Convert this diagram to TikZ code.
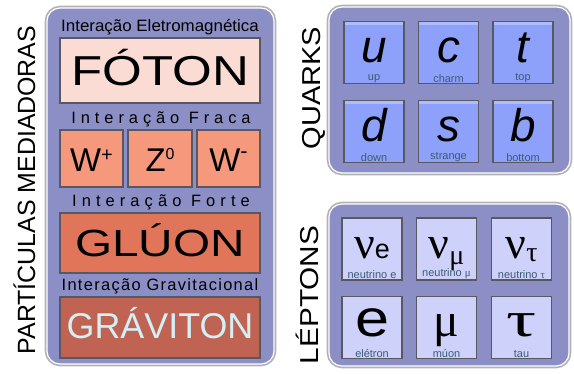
\documentclass[tikz,border=0pt]{standalone}
\usepackage{fontspec}
\setmainfont{Liberation Sans}
\newfontfamily\greekfont{Liberation Serif}

\definecolor{panelfill}{RGB}{140,143,198}
\definecolor{panelline}{RGB}{178,178,182}
\definecolor{boxline}{RGB}{88,88,98}
\definecolor{fotonfill}{RGB}{250,220,212}
\definecolor{fracafill}{RGB}{245,152,124}
\definecolor{gluonfill}{RGB}{225,117,89}
\definecolor{gravfill}{RGB}{193,99,82}
\definecolor{gravtext}{RGB}{210,240,246}
\definecolor{quarkfill}{RGB}{141,161,250}
\definecolor{quarktop}{RGB}{172,188,252}
\definecolor{leptonfill}{RGB}{206,209,250}
\definecolor{namecolor}{RGB}{62,90,118}

\begin{document}
\begin{tikzpicture}[x=1bp, y=-1bp,
  every node/.style={inner sep=0pt, outer sep=0pt},
  panel/.style={draw=white, line width=1.2bp, fill=panelfill, rounded corners=13bp,
    preaction={draw=panelline, line width=4.6bp}},
  forcebox/.style={draw=boxline, line width=1.3bp, text depth=0pt},
  forcetitle/.style={font=\fontsize{16.5}{16.5}\selectfont, text height=12bp, text depth=0pt},
  sidetitle/.style={rotate=90, text depth=0pt},
  quarkbox/.style={draw=boxline, line width=1.3bp, fill=quarkfill,
    minimum width=60bp, minimum height=62bp, text height=20bp, text depth=0pt,
    font=\fontsize{46}{46}\selectfont\itshape,
    path picture={\fill[quarktop] (path picture bounding box.north west)
      rectangle ([yshift=-3bp]path picture bounding box.north east);}},
  leptonbox/.style={draw=boxline, line width=1.3bp, fill=leptonfill,
    minimum width=60bp, minimum height=62bp, text height=18bp, text depth=0pt},
  partname/.style={font=\fontsize{11}{11}\selectfont, text=namecolor, anchor=south, inner sep=1.2bp}]

  \useasboundingbox (0,0) rectangle (574,373);

  % the three panels
  \node[panel, minimum width=227bp, minimum height=356bp] (mediadoras) at (160.5,186) {};
  \node[panel, minimum width=241bp, minimum height=166bp] (quarks) at (449.5,90) {};
  \node[panel, minimum width=240bp, minimum height=162bp] (leptons) at (449,285) {};

  % side titles
  \node[sidetitle, text height=18bp, font=\fontsize{25}{25}\selectfont] (medtitle) at (26,190)
  {PARTÍCULAS MEDIADORAS};
  \node[sidetitle, text height=19bp, font=\fontsize{26}{26}\selectfont] (quarktitle) at (311,88)
  {\scalebox{1.12}[1]{QUARKS}};
  \node[sidetitle, text height=19bp, font=\fontsize{26}{26}\selectfont] (leptontitle) at (309,295)
  {\scalebox{1.15}[1]{LÉPTONS}};

  % mediating particles
  \node[forcetitle] (eletro) at (160,25) {\scalebox{1.03}[1]{Interação Eletromagnética}};
  \node[forcebox, fill=fotonfill, minimum width=200bp, minimum height=65bp, text height=30bp,
    font=\fontsize{42}{42}\selectfont] (foton) at (160,70.5) {\scalebox{1.22}[1]{FÓTON}};

  \node[forcetitle] (fraca) at (161,117) {\addfontfeature{LetterSpace=30}Interação Fraca};
  \node[forcebox, fill=fracafill, minimum width=63bp, minimum height=57bp, text height=25bp,
    font=\fontsize{33}{33}\selectfont] (wplus) at (91.5,158.5)
  {W\raisebox{10bp}{\fontsize{20}{20}\selectfont +}};
  \node[forcebox, fill=fracafill, minimum width=64bp, minimum height=57bp, text height=25bp,
    font=\fontsize{33}{33}\selectfont] (zzero) at (160,158.5)
  {Z\raisebox{12bp}{\fontsize{16}{16}\selectfont 0}};
  \node[forcebox, fill=fracafill, minimum width=63bp, minimum height=57bp, text height=25bp,
    font=\fontsize{33}{33}\selectfont] (wminus) at (228.5,158.5)
  {W\raisebox{13bp}{\fontsize{22}{22}\selectfont -}};

  \node[forcetitle] (forte) at (161,200) {\addfontfeature{LetterSpace=31}Interação Forte};
  \node[forcebox, fill=gluonfill, minimum width=200bp, minimum height=60bp, text height=27bp,
    font=\fontsize{38}{38}\selectfont] (gluon) at (160,243) {\scalebox{1.26}[1]{GLÚON}};

  \node[forcetitle] (gravit) at (160,284) {\addfontfeature{LetterSpace=8}Interação Gravitacional};
  \node[forcebox, fill=gravfill, minimum width=200bp, minimum height=61bp, text height=22bp,
    font=\fontsize{36}{36}\selectfont, text=gravtext] (graviton) at (160,327.5) {GRÁVITON};

  % quarks
  \node[quarkbox, label={[partname]south:up}] (up) at (374,52.5) {u};
  \node[quarkbox, label={[partname]south:charm}] (charm) at (448.5,52.5) {c};
  \node[quarkbox, label={[partname]south:top}] (top) at (523,52.5) {t};
  \node[quarkbox, label={[partname]south:down}] (down) at (374,131.5) {d};
  \node[quarkbox, label={[partname]south:strange}] (strange) at (448.5,131.5) {s};
  \node[quarkbox, label={[partname]south:bottom}] (bottom) at (523,131.5) {b};

  % leptons
  \node[leptonbox, label={[partname]south:neutrino e}] (nue) at (372,249)
  {{\greekfont\fontsize{46}{46}\selectfont ν}{\fontsize{27}{27}\selectfont e}};
  \node[leptonbox, label={[partname]south:neutrino {\greekfont μ}}] (numu) at (446.5,249)
  {{\greekfont\fontsize{46}{46}\selectfont ν\raisebox{-6bp}{\fontsize{28}{28}\selectfont μ}}};
  \node[leptonbox, label={[partname]south:neutrino {\greekfont τ}}] (nutau) at (521.5,249)
  {{\greekfont\fontsize{46}{46}\selectfont ν\raisebox{-3bp}{\fontsize{28}{28}\selectfont τ}}};
  \node[leptonbox, label={[partname]south:elétron}] (electron) at (372,327.5)
  {\scalebox{1.18}[1]{\fontsize{52}{52}\selectfont e}};
  \node[leptonbox, label={[partname]south:múon}] (muon) at (446.5,327.5)
  {{\greekfont\fontsize{48}{48}\selectfont μ}};
  \node[leptonbox, label={[partname]south:tau}] (tau) at (521.5,327.5)
  {\scalebox{1.5}[1]{\greekfont\fontsize{50}{50}\selectfont τ}};
\end{tikzpicture}
\end{document}
